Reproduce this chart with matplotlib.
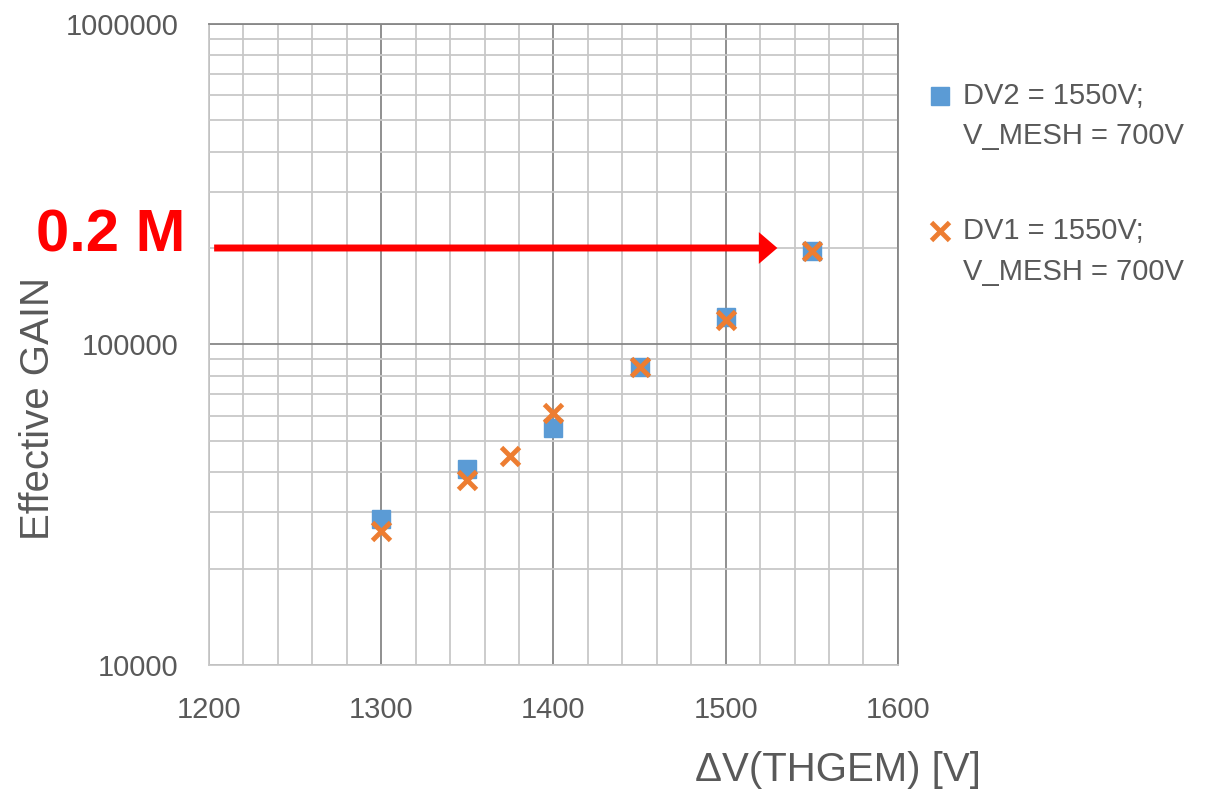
import matplotlib.pyplot as plt
from matplotlib.ticker import MultipleLocator, LogLocator, FixedFormatter, FixedLocator

# data
dv_blue = [1300, 1350, 1400, 1450, 1500, 1550]
gain_blue = [28500, 41000, 55000, 85000, 122000, 196000]
dv_orange = [1300, 1350, 1375, 1400, 1450, 1500, 1550]
gain_orange = [26200, 37800, 44900, 61000, 85000, 119500, 196000]
label_blue = 'DV2 = 1550V;\nV_MESH = 700V'
label_orange = 'DV1 = 1550V;\nV_MESH = 700V'
arrow_gain = 200000
arrow_start, arrow_end = 1203, 1530

plt.rcParams['font.family'] = ['Liberation Sans', 'DejaVu Sans']
txt = '#595959'

fig = plt.figure(figsize=(12.1, 7.91), dpi=100)
ax = fig.add_axes([0.1727, 0.1593, 0.5694, 0.8104])

ax.plot(dv_blue, gain_blue, 's', color='#5B9BD5', markersize=13, label=label_blue, zorder=3)
ax.plot(dv_orange, gain_orange, 'x', color='#ED7D31', markersize=13, markeredgewidth=3.5,
        label=label_orange, zorder=4)

ax.set_yscale('log')
ax.set_xlim(1200, 1600)
ax.set_ylim(10000, 1000000)

ax.xaxis.set_major_locator(MultipleLocator(100))
ax.xaxis.set_minor_locator(MultipleLocator(20))
ax.yaxis.set_major_locator(FixedLocator([10000, 100000, 1000000]))
ax.yaxis.set_major_formatter(FixedFormatter(['10000', '100000', '1000000']))
ax.yaxis.set_minor_locator(LogLocator(base=10, subs=range(2, 10)))
ax.yaxis.set_minor_formatter(FixedFormatter([]))

ax.grid(which='major', color='#878787', linewidth=1.3)
ax.grid(which='minor', color='#C8C8C8', linewidth=1.3)
ax.set_axisbelow(True)
ax.tick_params(which='both', length=0, labelsize=21, labelcolor=txt)
ax.tick_params(axis='x', pad=22)
ax.tick_params(axis='y', pad=22)

for s in ['left', 'bottom']:
    ax.spines[s].set_color('#C8C8C8')
for s in ['top', 'right']:
    ax.spines[s].set_color('#878787')
for s in ax.spines.values():
    s.set_linewidth(1.3)

ax.set_ylabel('Effective GAIN', fontsize=29, color=txt, va='center')
ax.yaxis.set_label_coords(-0.248, 0.40)
ax.set_xlabel('ΔV(THGEM) [V]', fontsize=29, color=txt, va='center')
ax.xaxis.set_label_coords(0.913, -0.164)

# red arrow and annotation
ax.annotate('', xy=(arrow_end, arrow_gain), xytext=(arrow_start, arrow_gain),
            arrowprops=dict(arrowstyle='-|>,head_length=0.7,head_width=0.6',
                            color='#FF0000', lw=5, shrinkA=0, shrinkB=0,
                            capstyle='butt', joinstyle='miter'), zorder=5)
fig.text(0.030, 0.682, '0.2 M', color='#FF0000', fontsize=43, fontweight='bold',
         va='baseline', ha='left')

leg = ax.legend(loc='upper left', bbox_to_anchor=(1.008, 0.95), frameon=False,
                fontsize=21, labelcolor=txt, handlelength=0.7, handletextpad=0.45,
                labelspacing=2.3, markerscale=1.0)
for t in leg.get_texts():
    t.set_linespacing(1.55)
# put legend markers level with the first text line, as in the original
for h in leg.legend_handles:
    h.set_ydata([v + 15 for v in h.get_ydata()])

fig.savefig('out.png', dpi=100)
